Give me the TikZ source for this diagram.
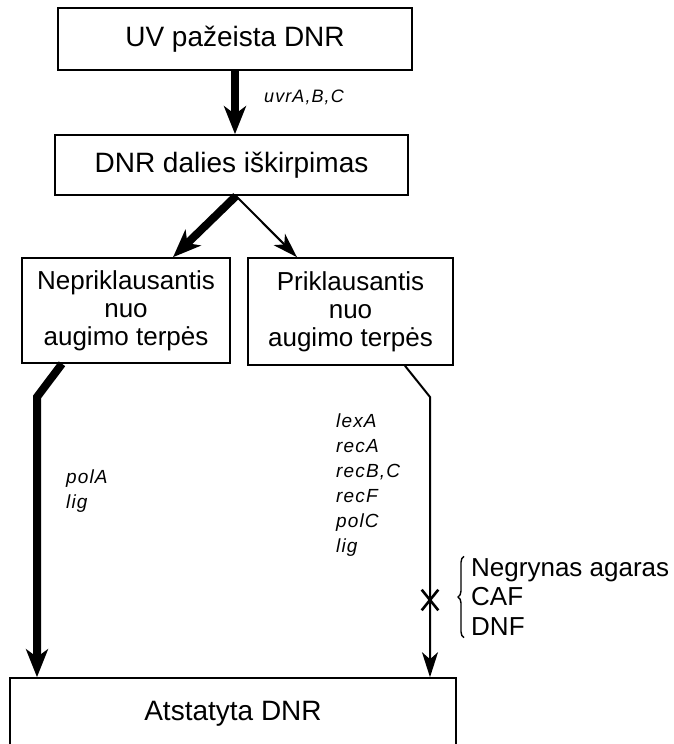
\documentclass[tikz,border=0pt]{standalone}
\usepackage{fontspec}
\setmainfont{Liberation Sans}
\newfontfamily\genefont[LetterSpace=6]{Liberation Sans}
\usetikzlibrary{arrows.meta,shapes.misc,decorations.pathreplacing}
\begin{document}
\begin{tikzpicture}[x=1pt,y=-1pt,
  box/.style={draw, line width=1.6pt, inner sep=0pt, align=center},
  bigtext/.style={font=\fontsize{28}{32}\selectfont},
  midtext/.style={font=\fontsize{26}{28}\selectfont},
  gene/.style={font=\genefont\fontsize{19}{25}\selectfont\itshape, align=left, inner sep=0pt},
  thickarrow/.style={line width=8pt, -{Stealth[length=28pt,width=22pt,inset=8pt]}},
  thinarrow/.style={line width=2pt, -{Stealth[length=25pt,width=16pt,inset=7pt]}}]
\fill[white] (0,0) rectangle (673,744);
\useasboundingbox (0,0) rectangle (673,744);
% boxes
\node[box, bigtext, minimum width=354pt, minimum height=62pt] (uv) at (235,39) {UV pažeista DNR};
\node[box, bigtext, minimum width=353pt, minimum height=60pt] (exc) at (231.5,165) {DNR dalies iškirpimas};
\node[box, midtext, minimum width=208pt, minimum height=105pt] (ind) at (126,310.5) {Nepriklausantis\\nuo\\augimo terpės};
\node[box, midtext, minimum width=205pt, minimum height=107pt] (dep) at (350.5,311.5) {Priklausantis\\nuo\\augimo terpės};
\node[box, bigtext, minimum width=446pt, minimum height=72pt] (res) at (233,714) {Atstatyta DNR};
% bend points
\coordinate (bendL) at (37,397);
\coordinate (bendR) at (430,397);
\coordinate (split) at (236,196);
% connectors
\draw[thickarrow] (uv.south) -- (uv.south |- exc.north);
\draw[thickarrow] (split) -- ([xshift=47pt]ind.north);
\draw[thinarrow] (split) -- ([xshift=-53.5pt]dep.north);
\draw[thickarrow] ([xshift=-64pt]ind.south) -- (bendL) -- (bendL |- res.north);
\draw[thinarrow] ([xshift=54.5pt]dep.south) -- (bendR) -- (bendR |- res.north);
% labels
\node[gene, anchor=west, font=\genefont\fontsize{18}{22}\selectfont\itshape] (uvr) at (264,97) {uvrA,B,C};
\node[gene, anchor=west] (pol) at (66,491) {polA\\lig};
\node[gene, anchor=west] (rec) at (336,485) {lexA\\recA\\recB,C\\recF\\polC\\lig};
% block mark
\node[cross out, draw, line width=2.6pt, minimum width=14pt, minimum height=18pt, inner sep=0pt] (xm) at (430,600) {};
% inhibitors
\node[anchor=west, align=left, inner sep=0pt, font=\fontsize{26}{29.5}\selectfont] (neg) at (471,597) {Negrynas agaras\\CAF\\DNF};
\draw[line width=1.4pt, decorate, decoration={brace, amplitude=6pt}] ([xshift=-7pt,yshift=-2pt]neg.south west) -- ([xshift=-7pt,yshift=2pt]neg.north west);
\end{tikzpicture}
\end{document}
